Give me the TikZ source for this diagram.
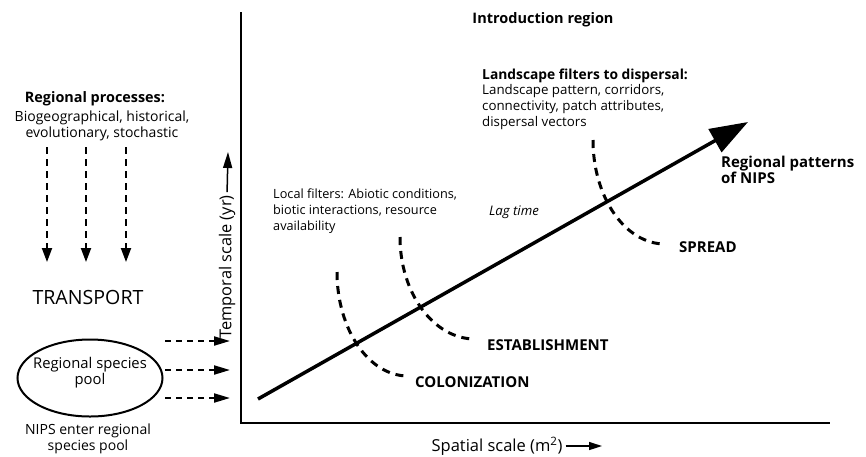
\documentclass[tikz,border=0pt]{standalone}
\usepackage{fontspec}
\setmainfont{Open Sans}
\usetikzlibrary{arrows.meta,positioning,shapes}
\newcommand{\setfs}[2]{\fontsize{#1}{#2}\selectfont}
\tikzset{
	txt/.style={inner sep=0pt},
	stage/.style={inner sep=0pt, anchor=west, font=\setfs{15}{16}\bfseries},
	filter/.style={line width=3pt, dash pattern=on 8pt off 6pt},
	flow/.style={line width=2pt, dash pattern=on 7pt off 5pt, -{Triangle[length=14pt,width=10pt]}},
	feed/.style={line width=2pt, dash pattern=on 6pt off 5pt, -{Triangle[length=16pt,width=9pt]}},
	axis/.style={line width=2pt},
}
\begin{document}
\begin{tikzpicture}[x=1pt,y=-1pt,font=\setfs{11}{16}]
	\useasboundingbox (0,0) rectangle (866,456);

	% left side
	\node[txt, font=\setfs{14.4}{16}\bfseries] (procT) at (95,99) {Regional processes:};
	\node[txt, align=center, font=\setfs{14}{16}] (procB) at (102,126) {Biogeographical, historical,\\evolutionary,\ stochastic};
	\foreach \x [count=\i] in {47,86,126} {
		\coordinate (ps\i) at (\x,147);
		\coordinate (pe\i) at (\x,262);
		\draw[flow] (ps\i) -- (pe\i);
	}
	\node[txt, font=\setfs{19.6}{22}] (transport) at (88,297) {TRANSPORT};
	\node[draw, ellipse, line width=2pt, minimum width=145pt, minimum height=77pt] (pool) at (90,378) {};
	\node[txt, align=center, font=\setfs{14.8}{16}] (poolT) at (90,373) {Regional species\\pool};
	\node[txt, align=center, font=\setfs{14}{16}] (enter) at (88,439) {NIPS enter regional\\species pool};
	\foreach \y [count=\i] in {341,370,398} {
		\coordinate (fs\i) at (165,\y);
		\coordinate (fe\i) at (230,\y);
		\draw[feed] (fs\i) -- (fe\i);
	}

	% axes
	\coordinate (ytop) at (241,12);
	\coordinate (orig) at (241,423);
	\coordinate (xend) at (830,423);
	\draw[axis] (ytop) -- (orig) -- (xend);
	\node[txt, rotate=90, font=\setfs{16.4}{16}] (tlab) at (227,267) {Temporal scale (yr)};
	\coordinate (ttip) at (228,152);
	\draw[line width=1.5pt, shorten <=3pt, -{Triangle[length=16pt,width=9pt]}] (tlab.east) -- (ttip);
	\node[txt, font=\setfs{16.5}{16}] (slab) at (497,446) {Spatial scale (m\textsuperscript{2})};
	\coordinate (stip) at (602,446);
	\draw[line width=1.5pt, shorten <=3pt, -{Triangle[length=13pt,width=8pt]}] (slab.east) -- (stip);

	% trajectory
	\coordinate (dstart) at (258,399);
	\coordinate (dtip) at (748,122);
	\draw[line width=3.5pt, -{Triangle[length=38pt,width=26pt]}] (dstart) -- (dtip);
	\node[txt, anchor=west, align=left, font=\setfs{15}{15}\bfseries] (nips) at (721,170) {Regional patterns\\of NIPS};
	\node[txt, font=\setfs{13.2}{14}\itshape] (lag) at (514,212) {Lag time};

	% filters
	\node[txt, font=\setfs{14.5}{16}\bfseries] (intro) at (543,20) {Introduction region};
	\node[txt, anchor=west, font=\setfs{13.8}{16}\bfseries] (landT) at (482,76) {Landscape filters to dispersal:};
	\node[txt, anchor=west, align=left, font=\setfs{13.3}{16}] (land) at (482,107) {Landscape pattern, corridors,\\connectivity, patch attributes,\\dispersal vectors};
	\node[txt, anchor=west, align=left, font=\setfs{12.7}{16}] (local) at (273,211) {Local filters: Abiotic conditions,\\biotic interactions, resource\\availability};

	\coordinate (colTop) at (337,272);
	\coordinate (colEnd) at (408,376);
	\draw[filter] (colTop) .. controls (337,329.4) and (368.8,376) .. (colEnd);
	\node[stage] (colon) at (415,382) {COLONIZATION};

	\coordinate (estTop) at (400,237);
	\coordinate (estEnd) at (475,339);
	\draw[filter] (estTop) .. controls (400,293.3) and (433.6,339) .. (estEnd);
	\node[stage] (estab) at (487,345) {ESTABLISHMENT};

	\coordinate (sprTop) at (593,140);
	\coordinate (sprEnd) at (665,244);
	\draw[filter] (sprTop) .. controls (593,197.4) and (625.2,244) .. (sprEnd);
	\node[stage] (spread) at (679,247) {SPREAD};
\end{tikzpicture}
\end{document}
